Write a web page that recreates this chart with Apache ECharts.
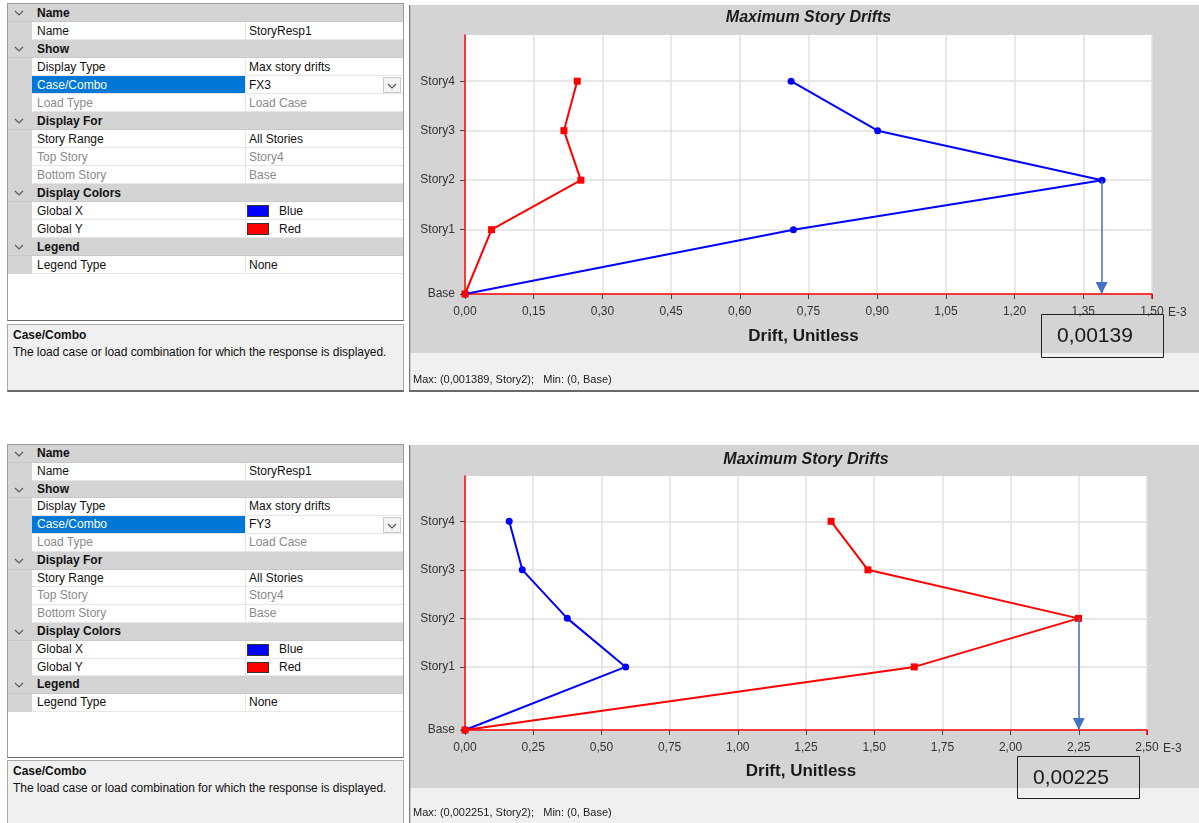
<!DOCTYPE html>
<html><head><meta charset="utf-8">
<script src="https://cdn.jsdelivr.net/npm/echarts@6/dist/echarts.min.js"></script>
<style>
html,body{margin:0;padding:0;}
body{width:1199px;height:823px;background:#fff;position:relative;overflow:hidden;font-family:"Liberation Sans",Arial,sans-serif;font-size:12px;color:#111;}
.a{position:absolute;box-sizing:border-box;white-space:nowrap;}
.a svg{display:block;}
</style></head><body>
<script>
// ---------------- data ----------------
const storyNames = ['Base', 'Story1', 'Story2', 'Story3', 'Story4'];
const storyElev  = [0, 3.9, 6.9, 9.9, 12.9];
// drifts in E-3 units, ordered Base..Story4
const fx3GlobalX = [0, 0.717, 1.391, 0.901, 0.712];
const fx3GlobalY = [0, 0.058, 0.253, 0.216, 0.245];
const fy3GlobalX = [0, 0.589, 0.375, 0.210, 0.162];
const fy3GlobalY = [0, 1.647, 2.249, 1.477, 1.342];
const fx3Axis = [0, 1.5, 0.15];   // min, max, interval
const fy3Axis = [0, 2.5, 0.25];
const fx3Marker = 1.39, fy3Marker = 2.25;
const fx3Box = '0,00139', fy3Box = '0,00225';
const fx3Status = 'Max: (0,001389, Story2);   Min: (0, Base)';
const fy3Status = 'Max: (0,002251, Story2);   Min: (0, Base)';

const gridGroups = [
  {title: 'Name', rows: [{k: 'Name', v: 'StoryResp1'}]},
  {title: 'Show', rows: [{k: 'Display Type', v: 'Max story drifts'}, {k: 'Case/Combo', v: '@', sel: true}, {k: 'Load Type', v: 'Load Case', dis: true}]},
  {title: 'Display For', rows: [{k: 'Story Range', v: 'All Stories'}, {k: 'Top Story', v: 'Story4', dis: true}, {k: 'Bottom Story', v: 'Base', dis: true}]},
  {title: 'Display Colors', rows: [{k: 'Global X', v: 'Blue', sw: '#0000ff'}, {k: 'Global Y', v: 'Red', sw: '#ff0000'}]},
  {title: 'Legend', rows: [{k: 'Legend Type', v: 'None'}]}
];

// ---------------- property grid (HTML) ----------------
function el(st, txt, parent) {
  const d = document.createElement('div');
  d.className = 'a';
  Object.assign(d.style, st);
  if (txt !== undefined) d.textContent = txt;
  (parent || document.body).appendChild(d);
  return d;
}
function px(v) { return v + 'px'; }
function chevron(x, y) {
  const d = el({left: px(x), top: px(y), width: '10px', height: '6px', lineHeight: '0', fontSize: '0'});
  d.innerHTML = '<svg width="10" height="6"><polyline points="1,1 5,5 9,1" fill="none" stroke="#5a5a5a" stroke-width="1.2"/></svg>';
}
function propGrid(T, rh, caseName, whiteEnd, descTop, descBot) {
  el({left: '7px', top: px(T - 1), width: '397px', height: px(whiteEnd - T + 2), background: '#fff', border: '1px solid #9c9c9c', borderBottomColor: '#6a6a6a'});
  let y = T;
  for (const g of gridGroups) {
    el({left: '8px', top: px(y), width: '395px', height: px(rh), background: '#d4d4d4', borderBottom: '1px solid #c8c8c8'});
    chevron(14, y + rh / 2 - 3);
    el({left: '37px', top: px(y), height: px(rh), lineHeight: px(rh), fontWeight: 'bold', color: '#111'}, g.title);
    y += rh;
    for (const r of g.rows) {
      el({left: '8px', top: px(y), width: '24px', height: px(rh), background: '#d4d4d4'});
      el({left: '32px', top: px(y), width: '213px', height: px(rh), background: r.sel ? '#0078d7' : '#fff', borderBottom: '1px solid #e6e6e6'});
      el({left: '245px', top: px(y), width: '158px', height: px(rh), background: '#fff', borderBottom: '1px solid #e6e6e6', borderLeft: '1px solid #e6e6e6'});
      const c = r.sel ? '#fff' : (r.dis ? '#8a8a8a' : '#111');
      el({left: '37px', top: px(y), height: px(rh), lineHeight: px(rh), color: c}, r.k);
      const v = r.v === '@' ? caseName : r.v;
      if (r.sw) {
        el({left: '247px', top: px(y + 3), width: '22px', height: px(rh - 6), background: r.sw, border: '1px solid #333'});
        el({left: '279px', top: px(y), height: px(rh), lineHeight: px(rh), color: '#111'}, v);
      } else {
        el({left: '249px', top: px(y), height: px(rh), lineHeight: px(rh), color: r.dis ? '#8a8a8a' : '#111'}, v);
      }
      if (r.sel) {
        el({left: '383px', top: px(y + 1), width: '18px', height: px(rh - 2), background: '#f4f4f4', border: '1px solid #c9c9c9'});
        chevron(387, y + rh / 2 - 2);
      }
      y += rh;
    }
  }
  el({left: '7px', top: px(descTop), width: '397px', height: px(descBot - descTop), background: '#f0f0f0', border: '1px solid #a8a8a8', borderBottom: '2px solid #6a6a6a'});
  el({left: '13px', top: px(descTop + 3), lineHeight: '16px', fontWeight: 'bold', color: '#111'}, 'Case/Combo');
  el({left: '13px', top: px(descTop + 20), lineHeight: '16px', color: '#111', letterSpacing: '-0.05px'}, 'The load case or load combination for which the response is displayed.');
}
propGrid(4, 18, 'FX3', 320, 324, 392);
propGrid(445, 17.8, 'FY3', 757, 760, 826);

// ---------------- charts ----------------
function fmt(v) { return v.toFixed(2).replace('.', ','); }
function pairs(xs) { return xs.map((x, i) => [x, storyElev[i]]); }
const FONT = 'Liberation Sans, Arial, sans-serif';

function makeChart(c) {
  const d = el({left: '409px', top: px(c.top), width: '790px', height: px(c.h)});
  const chart = echarts.init(d, null, {renderer: 'canvas'});
  const cx = c.gl + c.gw / 2;
  chart.setOption({
    animation: false,
    backgroundColor: '#d4d4d4',
    textStyle: {fontFamily: FONT},
    title: [
      {text: 'Maximum Story Drifts', left: cx, top: c.titleTop, textAlign: 'center', padding: 0,
       textStyle: {fontSize: 16, fontWeight: 'bold', fontStyle: 'italic', color: '#1a1a1a'}},
      {text: 'Drift, Unitless', left: cx - 5, top: c.nameTop, textAlign: 'center', padding: 0,
       textStyle: {fontSize: 17, fontWeight: 'bold', color: '#1a1a1a'}}
    ],
    grid: {left: c.gl, top: c.gt, width: c.gw, height: c.gh, show: true, backgroundColor: '#ffffff', borderWidth: 0},
    xAxis: {
      type: 'value', min: c.axis[0], max: c.axis[1], interval: c.axis[2],
      axisLine: {onZero: false, lineStyle: {color: '#ff0000', width: 1.5}},
      axisTick: {show: true, length: 5, lineStyle: {color: '#444'}},
      axisLabel: {margin: 12, fontSize: 12, color: '#333', formatter: fmt, showMinLabel: true, showMaxLabel: true},
      splitLine: {show: true, lineStyle: {color: '#e0e0e0', width: 1.5}}
    },
    yAxis: {
      type: 'value', min: 0, max: 15.7,
      axisLine: {show: true, onZero: false, lineStyle: {color: '#ff0000', width: 1.5}},
      axisTick: {show: true, length: 5, customValues: storyElev, lineStyle: {color: '#444'}},
      axisLabel: {customValues: storyElev, margin: 10, fontSize: 12, color: '#333',
                  formatter: v => { const i = storyElev.indexOf(v); return i >= 0 ? storyNames[i] : ''; }},
      splitLine: {show: true, lineStyle: {color: '#e0e0e0', width: 1.5}}
    },
    series: [
      {type: 'line', name: 'Global X', data: pairs(c.gx), color: '#0000ff', clip: false,
       lineStyle: {width: 2, color: '#0000ff'}, symbol: 'circle', symbolSize: 7, showSymbol: true,
       itemStyle: {color: '#0000ff'}, z: 3,
       markLine: c.markOn === 'x' ? arrow(c.marker) : undefined},
      {type: 'line', name: 'Global Y', data: pairs(c.gy), color: '#ff0000', clip: false,
       lineStyle: {width: 2, color: '#ff0000'}, symbol: 'rect', symbolSize: 7, showSymbol: true,
       itemStyle: {color: '#ff0000'}, z: 4,
       markLine: c.markOn === 'y' ? arrow(c.marker) : undefined}
    ],
    graphic: [
      {type: 'rect', x: 0, y: 0, shape: {x: 0, y: c.statusTop, width: 790, height: c.h - c.statusTop}, style: {fill: '#f0f0f0'}, z: 0},
      {type: 'line', x: 0, y: 0, shape: {x1: 0.5, y1: 0, x2: 0.5, y2: c.h}, style: {stroke: '#7a7a7a', lineWidth: 1.5}},
      c.bottomLine ? {type: 'line', x: 0, y: 0, shape: {x1: 0, y1: c.h - 1, x2: 790, y2: c.h - 1}, style: {stroke: '#6a6a6a', lineWidth: 2}} : {type: 'group'},
      {type: 'text', x: c.gl + c.gw + 16, y: c.gt + c.gh + 19, style: {text: 'E-3', fontSize: 12, fill: '#333', verticalAlign: 'middle', fontFamily: FONT}},
      {type: 'line', x: 0, y: 0, shape: {x1: c.gl + c.gw, y1: c.gt + c.gh, x2: c.gl + c.gw, y2: c.gt + c.gh + 5}, style: {stroke: '#ff0000', lineWidth: 1.5}, z: 50},
      {type: 'text', x: 4, y: c.statusY, style: {text: c.status, fontSize: 11, fill: '#1a1a1a', verticalAlign: 'middle', fontFamily: FONT}},
      {type: 'rect', x: 0, y: 0, shape: {x: c.box[0] + 0.5, y: c.box[1] + 0.5, width: c.box[2], height: c.box[3]}, style: {fill: 'rgba(0,0,0,0)', stroke: '#222', lineWidth: 1}, z: 100},
      {type: 'text', x: c.box[0] + 16, y: c.box[1] + c.box[3] / 2 + 1, style: {text: c.boxText, fontSize: 21, fill: '#1a1a1a', verticalAlign: 'middle', fontFamily: FONT}, z: 100}
    ]
  });
}
function arrow(val) {
  return {
    silent: true, animation: false,
    symbol: ['none', 'triangle'], symbolSize: 12, symbolOffset: [[0, 0], [0, 6]],
    label: {show: false}, emphasis: {disabled: true},
    itemStyle: {color: '#4472c4'},
    lineStyle: {color: '#4472c4', width: 1.5, type: 'solid'},
    data: [[{coord: [val, storyElev[2]]}, {coord: [val, 0]}]]
  };
}

makeChart({top: 5, h: 387, gl: 56, gt: 30, gw: 687, gh: 259, titleTop: 5, nameTop: 323,
  axis: fx3Axis, gx: fx3GlobalX, gy: fx3GlobalY, marker: fx3Marker, markOn: 'x',
  statusTop: 348, statusY: 375, status: fx3Status, bottomLine: true,
  box: [632, 309, 122, 43], boxText: fx3Box});
makeChart({top: 445, h: 378, gl: 56, gt: 31, gw: 682, gh: 254, titleTop: 7, nameTop: 318,
  axis: fy3Axis, gx: fy3GlobalX, gy: fy3GlobalY, marker: fy3Marker, markOn: 'y',
  statusTop: 343, statusY: 368, status: fy3Status, bottomLine: false,
  box: [608, 311, 122, 42], boxText: fy3Box});
</script>
</body></html>
